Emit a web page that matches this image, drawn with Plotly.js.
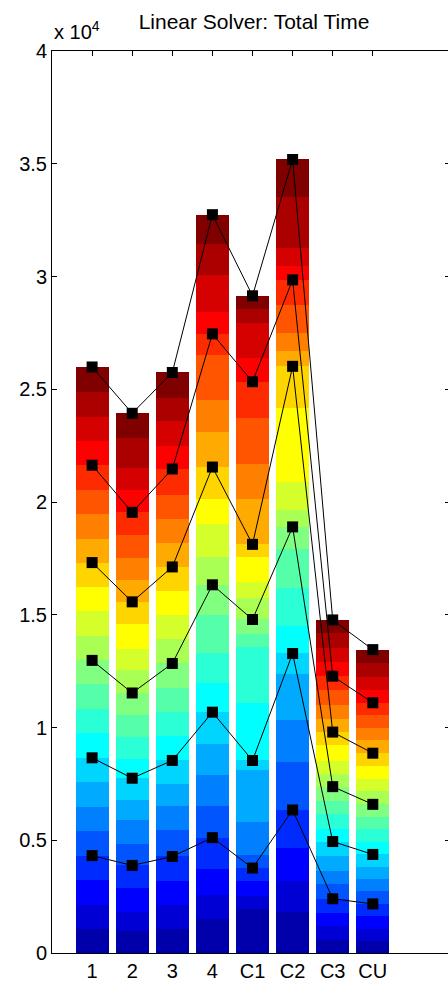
<!DOCTYPE html>
<html>
<head>
<meta charset="utf-8">
<script src="https://cdn.plot.ly/plotly-3.0.1.min.js"></script>
<style>html,body{margin:0;padding:0;background:#fff;}#chart{width:448px;height:987px;}</style>
</head>
<body>
<div id="chart"></div>
<script>
// Categories (bars)
const categories = ['1', '2', '3', '4', 'C1', 'C2', 'C3', 'CU'];

// 24 stacked segment values per bar, bottom segment first
const bar1 = [1045, 1080, 1097, 1097, 1080, 1080, 1097, 1080, 1097, 1080, 1080, 1063, 1097, 1080, 1080, 1080, 1063, 1080, 1097, 1080, 1063, 1080, 1097, 1115];
const bar2 = [958, 871, 1045, 1010, 941, 1080, 888, 958, 871, 958, 958, 993, 1010, 958, 1080, 993, 976, 958, 1045, 993, 993, 993, 1307, 1097];
const bar3 = [1070, 1070, 1070, 1070, 1177, 1070, 963, 1049, 1091, 1070, 1070, 1070, 1070, 1070, 1070, 1070, 1070, 1070, 1070, 1134, 1006, 1113, 1027, 1134];
const bar4 = [1498, 1070, 1177, 1370, 1391, 1391, 1391, 1391, 1305, 1327, 1669, 1348, 1220, 1455, 1113, 1434, 1541, 1412, 2033, 920, 963, 1648, 1391, 1284];
const barC1 = [1940, 571, 685, 571, 571, 1483, 2282, 434, 2533, 2510, 571, 639, 958, 685, 1141, 548, 2008, 1552, 2054, 1597, 1073, 1552, 616, 571];
const barC2 = [1826, 1369, 1483, 1666, 2145, 1826, 2054, 913, 1209, 1712, 1712, 981, 730, 1255, 3309, 1826, 685, 799, 1255, 1095, 616, 799, 2282, 1643];
const barC3 = [594, 594, 594, 623, 638, 594, 668, 638, 549, 668, 594, 623, 564, 594, 668, 594, 594, 594, 668, 623, 638, 594, 668, 594];
const barCU = [519, 563, 548, 548, 563, 548, 534, 548, 563, 548, 548, 563, 593, 548, 563, 563, 578, 548, 563, 548, 578, 578, 608, 593];

// Y tick labels (axis shown in units of 10^4)
const yTickVals = [0, 5000, 10000, 15000, 20000, 25000, 30000, 35000, 40000];
const yTickText = ['0', '0.5', '1', '1.5', '2', '2.5', '3', '3.5', '4'];

const bars = [bar1, bar2, bar3, bar4, barC1, barC2, barC3, barCU];
const xPos = categories.map((c, i) => i + 1);
const nSeg = bar1.length;
const groupSize = 4;

// MATLAB jet colormap
function jet(n) {
  const n4 = Math.round(n / 4);
  const u = [];
  for (let i = 1; i <= n4; i++) u.push(i / n4);
  for (let i = 0; i < n4 - 1; i++) u.push(1);
  for (let i = n4; i >= 1; i--) u.push(i / n4);
  const off = Math.ceil(n4 / 2) - (n % 4 === 1 ? 1 : 0);
  const R = new Array(n).fill(0), G = new Array(n).fill(0), B = new Array(n).fill(0);
  for (let k = 0; k < u.length; k++) {
    const g = off + k + 1, r = g + n4, b = g - n4;
    if (g >= 1 && g <= n) G[g - 1] = u[k];
    if (r >= 1 && r <= n) R[r - 1] = u[k];
    if (b >= 1 && b <= n) B[b - 1] = u[k];
  }
  const out = [];
  for (let i = 0; i < n; i++) out.push('rgb(' + Math.round(R[i] * 255) + ',' + Math.round(G[i] * 255) + ',' + Math.round(B[i] * 255) + ')');
  return out;
}
const cmap = jet(nSeg);

const traces = [];
for (let s = 0; s < nSeg; s++) {
  traces.push({
    type: 'bar',
    x: xPos,
    y: bars.map(b => b[s]),
    width: 0.82,
    marker: {color: cmap[s], line: {width: 0}},
    hoverinfo: 'skip',
    showlegend: false
  });
}
// marker lines at every 4th cumulative boundary
for (let g = 1; g <= nSeg / groupSize; g++) {
  const yv = bars.map(b => b.slice(0, g * groupSize).reduce((a, v) => a + v, 0));
  traces.push({
    type: 'scatter',
    mode: 'lines+markers',
    x: xPos,
    y: yv,
    line: {color: '#000', width: 1},
    marker: {symbol: 'square', size: 11, color: '#000'},
    hoverinfo: 'skip',
    showlegend: false
  });
}
// carrier for right-hand tick axis
traces.push({type: 'scatter', x: [], y: [], yaxis: 'y2', showlegend: false, hoverinfo: 'skip'});

const layout = {
  width: 448,
  height: 987,
  margin: {l: 52, r: 0, t: 51, b: 34, pad: 0},
  paper_bgcolor: '#fff',
  plot_bgcolor: '#fff',
  barmode: 'stack',
  showlegend: false,
  font: {family: 'Liberation Sans, Arial, sans-serif', size: 20, color: '#000'},
  title: {
    text: 'Linear Solver: Total Time',
    font: {size: 21, color: '#000'},
    xref: 'container', x: 254 / 448, xanchor: 'center',
    yref: 'container', y: 1 - 22 / 987, yanchor: 'middle'
  },
  xaxis: {
    range: [0, 9.875],
    tickvals: xPos,
    ticktext: categories,
    ticks: 'inside',
    ticklen: 5,
    tickcolor: '#000',
    showline: true,
    mirror: 'ticks',
    linecolor: '#000',
    linewidth: 1,
    showgrid: false,
    zeroline: false,
    layer: 'below traces',
    tickfont: {size: 20}
  },
  yaxis: {
    range: [0, 40000],
    tickvals: yTickVals,
    ticktext: yTickText,
    ticks: 'inside',
    ticklen: 5,
    tickcolor: '#000',
    showline: true,
    linecolor: '#000',
    linewidth: 1,
    showgrid: false,
    zeroline: false,
    tickfont: {size: 20}
  },
  yaxis2: {
    overlaying: 'y',
    side: 'right',
    anchor: 'x',
    range: [0, 40000],
    tickvals: yTickVals,
    ticks: 'inside',
    ticklen: 3,
    tickcolor: '#000',
    showticklabels: false,
    showline: false,
    showgrid: false,
    zeroline: false
  },
  annotations: [{
    text: 'x 10<sup>4</sup>',
    xref: 'paper', yref: 'paper',
    x: 0, y: 1, xanchor: 'left', yanchor: 'bottom',
    yshift: 6,
    showarrow: false,
    font: {size: 20, color: '#000'}
  }]
};

Plotly.newPlot('chart', traces, layout, {staticPlot: true, displayModeBar: false});
</script>
</body>
</html>
